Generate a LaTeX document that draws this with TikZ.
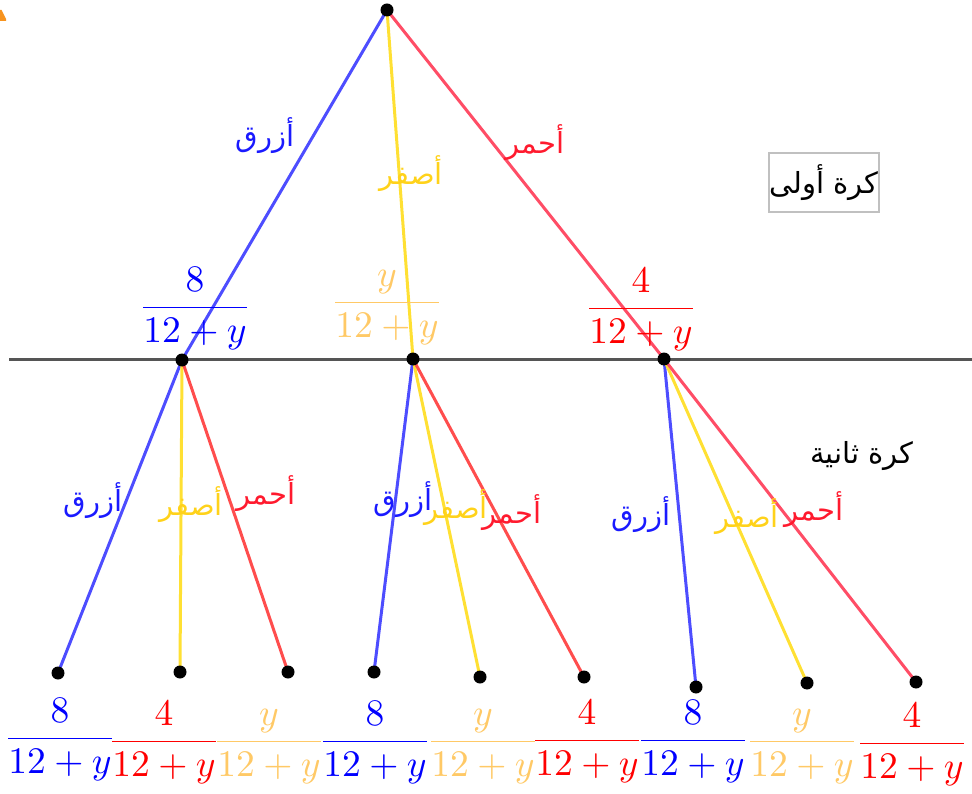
\documentclass[tikz,border=0pt]{standalone}
\usepackage{graphicx}
\usepackage{amsmath}
\usepackage{fontspec}
\newfontfamily\arabicfont[Script=Arabic]{DejaVu Sans}
\TeXXeTstate=1
\usetikzlibrary{backgrounds}
\definecolor{lblue}{HTML}{4D4DFF}
\definecolor{lyellow}{HTML}{FFE033}
\definecolor{lred}{HTML}{FF4D66}
\definecolor{lred2}{HTML}{FF4D4D}
\definecolor{tblue}{HTML}{1A1AFF}
\definecolor{tyellow}{HTML}{FFD21A}
\definecolor{tred}{HTML}{FF1A2E}
\definecolor{fblue}{HTML}{0000FF}
\definecolor{fred}{HTML}{FF0000}
\definecolor{fyellow}{HTML}{FFC966}
\definecolor{axisgray}{HTML}{555555}
\definecolor{boxgray}{HTML}{C0C0C0}
\definecolor{orangemark}{HTML}{F7931E}
\newcommand{\bigfrac}[2]{\scalebox{3.75}{$\dfrac{#1}{#2}$}}
\tikzset{
  dot/.style={circle,fill=black,inner sep=0pt,minimum size=13pt},
  branch/.style={line width=3pt},
  frac/.style={inner sep=0pt,anchor=base},
  lab/.style={inner sep=0pt,font={\fontsize{29}{34}\selectfont\arabicfont}},
}
\begin{document}
\begin{tikzpicture}[x=1pt,y=-1pt]
\useasboundingbox (0,0) rectangle (972,794);
% orange mark
\fill[orangemark] (0,10) -- (1.5,10) -- (6,19) -- (6,21) -- (0,21) -- cycle;
% axis line
\coordinate (axL) at (9,359);
\coordinate (axR) at (972,359);
\draw[axisgray,line width=3pt] (axL) -- (axR);
% dots
\node[dot] (root) at (387,10) {};
\node[dot] (m1) at (182,360) {};
\node[dot] (m2) at (413,359) {};
\node[dot] (m3) at (664,359) {};
\node[dot] (l1) at (58,673) {};
\node[dot] (l2) at (180,672) {};
\node[dot] (l3) at (288,672) {};
\node[dot] (l4) at (374,672) {};
\node[dot] (l5) at (480,677) {};
\node[dot] (l6) at (584,677) {};
\node[dot] (l7) at (696,687) {};
\node[dot] (l8) at (807,683) {};
\node[dot] (l9) at (916,682) {};
\begin{pgfonlayer}{background}
\draw[branch,lblue] (root.center) -- (m1.center);
\draw[branch,lyellow] (root.center) -- (m2.center);
\draw[branch,lred] (root.center) -- (m3.center);
\draw[branch,lblue] (m1.center) -- (l1.center);
\draw[branch,lyellow] (m1.center) -- (l2.center);
\draw[branch,lred2] (m1.center) -- (l3.center);
\draw[branch,lblue] (m2.center) -- (l4.center);
\draw[branch,lyellow] (m2.center) -- (l5.center);
\draw[branch,lred2] (m2.center) -- (l6.center);
\draw[branch,lblue] (m3.center) -- (l7.center);
\draw[branch,lyellow] (m3.center) -- (l8.center);
\draw[branch,lred] (m3.center) -- (l9.center);
\end{pgfonlayer}
% first level labels
\node[lab,text=tblue] (a1) at (265,136) {\beginR أزرق\endR};
\node[lab,text=tyellow] (a2) at (411,174) {\beginR أصفر\endR};
\node[lab,text=tred] (a3) at (535,143) {\beginR أحمر\endR};
\node[lab,draw=boxgray,line width=2pt,text=black,minimum width=108pt,minimum height=59pt] (box1) at (824,183) {\beginR كرة أولى\endR};
\node[lab,text=black] (box2) at (862,456) {\beginR كرة ثانية\endR};
% second level labels
\node[lab,text=tblue] (b1) at (93,501) {\beginR أزرق\endR};
\node[lab,text=tyellow] (b2) at (191,505) {\beginR أصفر\endR};
\node[lab,text=tred] (b3) at (266,494) {\beginR أحمر\endR};
\node[lab,text=tblue] (b4) at (403,500) {\beginR أزرق\endR};
\node[lab,text=tyellow] (b5) at (456,508) {\beginR أصفر\endR};
\node[lab,text=tred] (b6) at (512,513) {\beginR أحمر\endR};
\node[lab,text=tblue] (b7) at (641,515) {\beginR أزرق\endR};
\node[lab,text=tyellow] (b8) at (747,517) {\beginR أصفر\endR};
\node[lab,text=tred] (b9) at (814,510) {\beginR أحمر\endR};
% first level fractions
\node[frac,text=fblue] (f1) at (195,317) {\bigfrac{8}{12+y}};
\node[frac,text=fyellow] (f2) at (387,312) {\bigfrac{y}{12+y}};
\node[frac,text=fred] (f3) at (641,318) {\bigfrac{4}{12+y}};
% bottom fractions
\node[frac,text=fblue] (g1) at (60,748) {\bigfrac{8}{12+y}};
\node[frac,text=fred] (g2) at (164,751) {\bigfrac{4}{12+y}};
\node[frac,text=fyellow] (g3) at (269,751) {\bigfrac{y}{12+y}};
\node[frac,text=fblue] (g4) at (375,751) {\bigfrac{8}{12+y}};
\node[frac,text=fyellow] (g5) at (483,751) {\bigfrac{y}{12+y}};
\node[frac,text=fred] (g6) at (587,750) {\bigfrac{4}{12+y}};
\node[frac,text=fblue] (g7) at (693,750) {\bigfrac{8}{12+y}};
\node[frac,text=fyellow] (g8) at (802,751) {\bigfrac{y}{12+y}};
\node[frac,text=fred] (g9) at (912,753) {\bigfrac{4}{12+y}};
\end{tikzpicture}
\end{document}
